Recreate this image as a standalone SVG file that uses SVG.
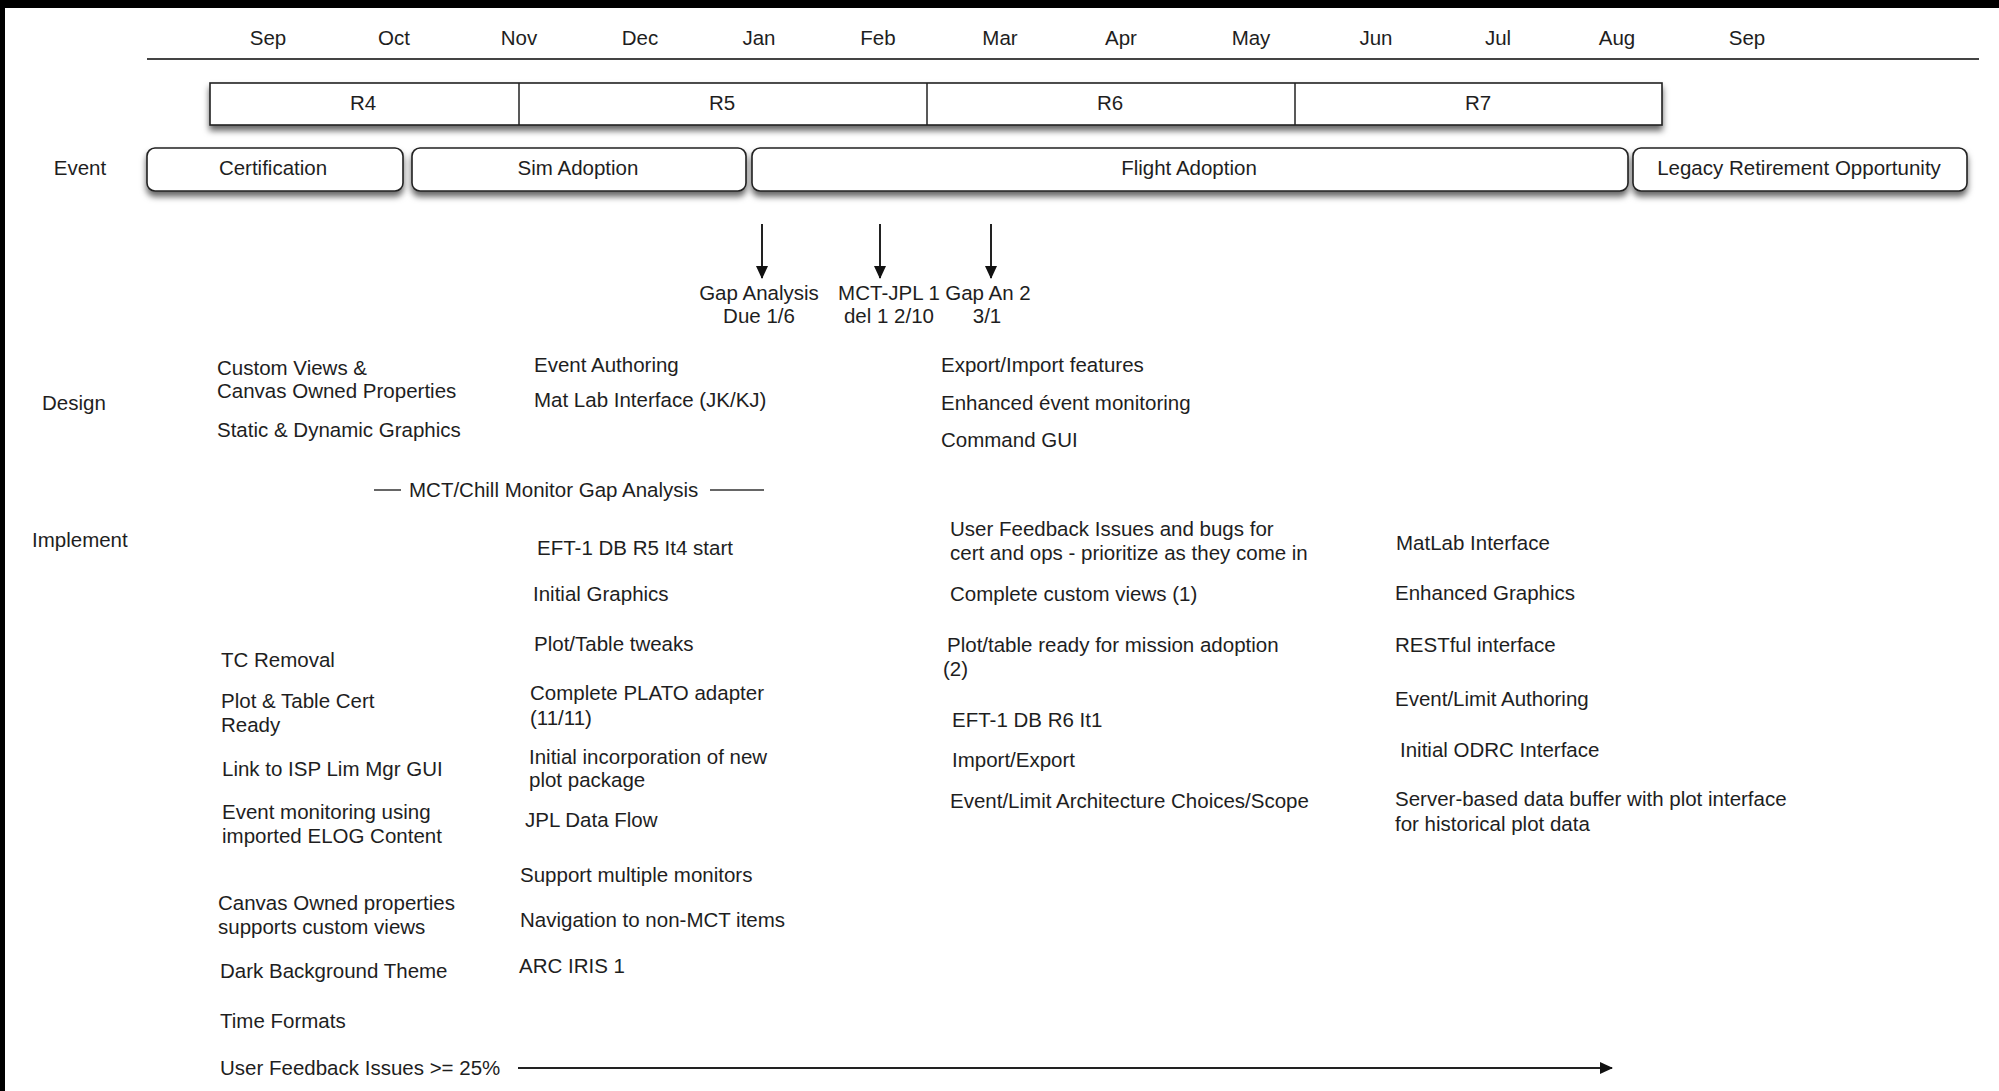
<svg xmlns="http://www.w3.org/2000/svg" width="1999" height="1091" viewBox="0 0 1999 1091">
<style>
text{font-family:"Liberation Sans",Arial,Helvetica,sans-serif;font-size:20.5px;fill:#1e1e1e}
.c{text-anchor:middle}
.box{fill:#fff;stroke:#222;stroke-width:1.6}
.div{stroke:#222;stroke-width:1.5}
.conn{stroke:#222;stroke-width:2;fill:none}
.dash{stroke:#333;stroke-width:1.5}
</style>
<defs>
<filter id="sh" x="-5%" y="-30%" width="110%" height="180%">
<feDropShadow dx="0" dy="5" stdDeviation="3" flood-color="#000" flood-opacity="0.6"/>
</filter>
<marker id="ah" markerWidth="14" markerHeight="14" refX="12" refY="7" orient="auto" markerUnits="userSpaceOnUse">
<path d="M0,1 L13,7 L0,13 Z" fill="#111"/>
</marker>
</defs>
<rect x="0" y="0" width="1999" height="1091" fill="#fff"/>
<rect x="0" y="0" width="1999" height="8" fill="#000"/>
<rect x="0" y="0" width="5" height="1091" fill="#000"/>

<g id="timeline">
<line x1="147" y1="59" x2="1979" y2="59" stroke="#444" stroke-width="2"/>
<text class="c" x="268" y="45">Sep</text>
<text class="c" x="394" y="45">Oct</text>
<text class="c" x="519" y="45">Nov</text>
<text class="c" x="640" y="45">Dec</text>
<text class="c" x="759" y="45">Jan</text>
<text class="c" x="878" y="45">Feb</text>
<text class="c" x="1000" y="45">Mar</text>
<text class="c" x="1121" y="45">Apr</text>
<text class="c" x="1251" y="45">May</text>
<text class="c" x="1376" y="45">Jun</text>
<text class="c" x="1498" y="45">Jul</text>
<text class="c" x="1617" y="45">Aug</text>
<text class="c" x="1747" y="45">Sep</text>
</g>

<g id="releases">
<rect class="box" x="210" y="83" width="1452" height="42" filter="url(#sh)"/>
<line class="div" x1="519" y1="83" x2="519" y2="125"/>
<line class="div" x1="927" y1="83" x2="927" y2="125"/>
<line class="div" x1="1295" y1="83" x2="1295" y2="125"/>
<text class="c" x="363" y="110">R4</text>
<text class="c" x="722" y="110">R5</text>
<text class="c" x="1110" y="110">R6</text>
<text class="c" x="1478" y="110">R7</text>
</g>

<g id="event-label"><text class="c" x="80" y="175">Event</text></g>
<g id="certification">
<rect class="box" x="147" y="148" width="256" height="43" rx="8" filter="url(#sh)"/>
<text class="c" x="273" y="175">Certification</text>
</g>
<g id="sim-adoption">
<rect class="box" x="412" y="148" width="334" height="43" rx="8" filter="url(#sh)"/>
<text class="c" x="578" y="175">Sim Adoption</text>
</g>
<g id="flight-adoption">
<rect class="box" x="752" y="148" width="876" height="43" rx="8" filter="url(#sh)"/>
<text class="c" x="1189" y="175">Flight Adoption</text>
</g>
<g id="legacy-retirement">
<rect class="box" x="1633" y="148" width="334" height="43" rx="8" filter="url(#sh)"/>
<text class="c" x="1799" y="175">Legacy Retirement Opportunity</text>
</g>

<g id="connectors">
<line class="conn" x1="762" y1="224" x2="762" y2="278" marker-end="url(#ah)"/>
<line class="conn" x1="880" y1="224" x2="880" y2="278" marker-end="url(#ah)"/>
<line class="conn" x1="991" y1="224" x2="991" y2="278" marker-end="url(#ah)"/>
<line class="conn" x1="518" y1="1068" x2="1612" y2="1068" marker-end="url(#ah)"/>
</g>

<g id="milestones">
<text class="c" x="759" y="300">Gap Analysis</text>
<text class="c" x="759" y="323">Due 1/6</text>
<text class="c" x="889" y="300">MCT-JPL 1</text>
<text class="c" x="889" y="323">del 1 2/10</text>
<text class="c" x="988" y="300">Gap An 2</text>
<text class="c" x="987" y="323">3/1</text>
</g>

<g id="design">
<text x="42" y="410">Design</text>
<text x="217" y="375">Custom Views &amp;</text>
<text x="217" y="398">Canvas Owned Properties</text>
<text x="217" y="437">Static &amp; Dynamic Graphics</text>
<text x="534" y="372">Event Authoring</text>
<text x="534" y="407">Mat Lab Interface (JK/KJ)</text>
<text x="941" y="372">Export/Import features</text>
<text x="941" y="410">Enhanced évent monitoring</text>
<text x="941" y="447">Command GUI</text>
</g>

<g id="gap-analysis">
<line class="dash" x1="374" y1="490" x2="401" y2="490"/>
<text x="409" y="497">MCT/Chill Monitor Gap Analysis</text>
<line class="dash" x1="710" y1="490" x2="764" y2="490"/>
</g>

<g id="implement">
<text x="32" y="547">Implement</text>
<text x="221" y="667">TC Removal</text>
<text x="221" y="708">Plot &amp; Table Cert</text>
<text x="221" y="732">Ready</text>
<text x="222" y="776">Link to ISP Lim Mgr GUI</text>
<text x="222" y="819">Event monitoring using</text>
<text x="222" y="843">imported ELOG Content</text>
<text x="218" y="910">Canvas Owned properties</text>
<text x="218" y="934">supports custom views</text>
<text x="220" y="978">Dark Background Theme</text>
<text x="220" y="1028">Time Formats</text>
<text x="220" y="1075">User Feedback Issues &gt;= 25%</text>

<text x="537" y="555">EFT-1 DB R5 It4 start</text>
<text x="533" y="601">Initial Graphics</text>
<text x="534" y="651">Plot/Table tweaks</text>
<text x="530" y="700">Complete PLATO adapter</text>
<text x="530" y="725">(11/11)</text>
<text x="529" y="764">Initial incorporation of new</text>
<text x="529" y="787">plot package</text>
<text x="525" y="827">JPL Data Flow</text>
<text x="520" y="882">Support multiple monitors</text>
<text x="520" y="927">Navigation to non-MCT items</text>
<text x="519" y="973">ARC IRIS 1</text>

<text x="950" y="536">User Feedback Issues and bugs for</text>
<text x="950" y="560">cert and ops - prioritize as they come in</text>
<text x="950" y="601">Complete custom views (1)</text>
<text x="947" y="652">Plot/table ready for mission adoption</text>
<text x="943" y="676">(2)</text>
<text x="952" y="727">EFT-1 DB R6 It1</text>
<text x="952" y="767">Import/Export</text>
<text x="950" y="808">Event/Limit Architecture Choices/Scope</text>

<text x="1396" y="550">MatLab Interface</text>
<text x="1395" y="600">Enhanced Graphics</text>
<text x="1395" y="652">RESTful interface</text>
<text x="1395" y="706">Event/Limit Authoring</text>
<text x="1400" y="757">Initial ODRC Interface</text>
<text x="1395" y="806">Server-based data buffer with plot interface</text>
<text x="1395" y="831">for historical plot data</text>
</g>
</svg>
